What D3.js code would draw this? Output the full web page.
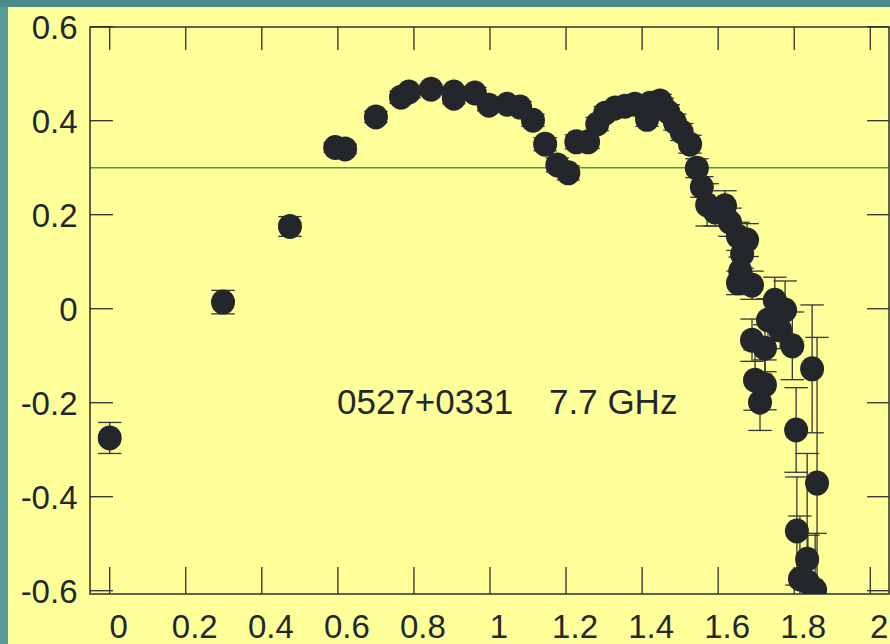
<!DOCTYPE html>
<html>
<head>
<meta charset="utf-8">
<script src="https://cdn.jsdelivr.net/npm/d3@7/dist/d3.min.js"></script>
<style>
  html, body { margin: 0; padding: 0; background: #4e8e8e; }
  svg { display: block; }
  text { font-family: "Liberation Sans", Arial, Helvetica, sans-serif; fill: #23272b; }
</style>
</head>
<body>
<svg id="chart" width="890" height="644"></svg>
<script>
// ---- data ----
const xVals = [0.000, 0.298, 0.474, 0.593, 0.619, 0.700, 0.766, 0.787, 0.845, 0.905,
               0.905, 0.960, 0.997, 1.045, 1.079, 1.113, 1.145, 1.177, 1.206, 1.227,
               1.258, 1.282, 1.303, 1.329, 1.355, 1.381, 1.413, 1.421, 1.447, 1.453,
               1.469, 1.486, 1.504, 1.526, 1.544, 1.557, 1.571, 1.592, 1.618, 1.631,
               1.652, 1.676, 1.663, 1.658, 1.652, 1.689, 1.749, 1.776, 1.731, 1.763,
               1.689, 1.723, 1.795, 1.847, 1.697, 1.723, 1.710, 1.805, 1.860, 1.807,
               1.834, 1.815, 1.836, 1.855];
const yVals = [-0.275, 0.014, 0.175, 0.343, 0.340, 0.408, 0.450, 0.461, 0.467, 0.461,
               0.448, 0.459, 0.433, 0.435, 0.429, 0.401, 0.350, 0.306, 0.289, 0.355,
               0.355, 0.393, 0.416, 0.427, 0.431, 0.435, 0.403, 0.437, 0.442, 0.433,
               0.418, 0.397, 0.376, 0.350, 0.299, 0.259, 0.221, 0.206, 0.219, 0.184,
               0.154, 0.146, 0.116, 0.080, 0.055, 0.050, 0.018, -0.003, -0.024, -0.045,
               -0.067, -0.084, -0.079, -0.128, -0.152, -0.162, -0.199, -0.258, -0.371, -0.473,
               -0.533, -0.575, -0.582, -0.598];
const yErrs = [0.033, 0.025, 0.021, 0.010, 0.010, 0.012, 0.013, 0.012, 0.010, 0.011,
               0.012, 0.012, 0.012, 0.011, 0.012, 0.013, 0.014, 0.015, 0.015, 0.015,
               0.014, 0.014, 0.014, 0.013, 0.013, 0.013, 0.015, 0.014, 0.014, 0.015,
               0.016, 0.017, 0.018, 0.019, 0.020, 0.022, 0.045, 0.030, 0.032, 0.030,
               0.030, 0.035, 0.030, 0.030, 0.025, 0.030, 0.049, 0.062, 0.045, 0.040,
               0.045, 0.050, 0.072, 0.136, 0.064, 0.053, 0.060, 0.090, 0.310, 0.115,
               0.225, 0.134, 0.100, 0.120];
const refLevel = 0.3;
const xTicks = [0, 0.2, 0.4, 0.6, 0.8, 1, 1.2, 1.4, 1.6, 1.8, 2];
const xTickLabels = ["0", "0.2", "0.4", "0.6", "0.8", "1", "1.2", "1.4", "1.6", "1.8", "2"];
const yTicks = [-0.6, -0.4, -0.2, 0, 0.2, 0.4, 0.6];
const yTickLabels = ["-0.6", "-0.4", "-0.2", "0", "0.2", "0.4", "0.6"];
const sourceName = "0527+0331";
const freqLabel = "7.7 GHz";

// ---- layout ----
const svg = d3.select("#chart");
const L = 90, R = 889, T = 27, B = 594;
const x = d3.scaleLinear().domain([-0.0518, 2.0492]).range([L, R]);
const y = d3.scaleLinear().domain([-0.607, 0.6]).range([B, T - 0.3]);

// panel background
svg.append("rect").attr("x", 0).attr("y", 0).attr("width", 890).attr("height", 644).attr("fill", "#4b8a8a");
svg.append("rect").attr("x", 0).attr("y", 7).attr("width", 8).attr("height", 637).attr("fill", "#5a9c9c");
svg.append("rect").attr("x", 8).attr("y", 7).attr("width", 882).attr("height", 637).attr("fill", "#ffff99");

svg.append("defs").append("clipPath").attr("id", "plotclip")
  .append("rect").attr("x", L).attr("y", T).attr("width", R - L).attr("height", B - T);

const ink = "#2b2f33";

// ticks (inward on all four sides)
const tickG = svg.append("g").attr("stroke", ink).attr("stroke-width", 1.3);
xTicks.forEach(v => {
  tickG.append("line").attr("x1", x(v)).attr("x2", x(v)).attr("y1", B).attr("y2", B - 27);
  tickG.append("line").attr("x1", x(v)).attr("x2", x(v)).attr("y1", T).attr("y2", T + 23);
});
yTicks.forEach(v => {
  tickG.append("line").attr("x1", L).attr("x2", L + 23).attr("y1", y(v)).attr("y2", y(v));
  tickG.append("line").attr("x1", R).attr("x2", R - 22).attr("y1", y(v)).attr("y2", y(v));
});

// tick labels
const fs = 33;
svg.append("g").selectAll("text").data(xTicks).join("text")
  .attr("x", d => x(d) + 9).attr("y", 638)
  .attr("text-anchor", "middle").attr("font-size", fs)
  .text((d, i) => xTickLabels[i]);
svg.append("g").selectAll("text").data(yTicks).join("text")
  .attr("x", 77.5).attr("y", d => y(d) + 12)
  .attr("text-anchor", "end").attr("font-size", fs)
  .text((d, i) => yTickLabels[i]);

const plot = svg.append("g").attr("clip-path", "url(#plotclip)");

// reference line
plot.append("line").attr("x1", L).attr("x2", R).attr("y1", y(refLevel)).attr("y2", y(refLevel))
  .attr("stroke", "#3fa04f").attr("stroke-width", 1.4);

const pts = xVals.map((v, i) => ({x: v, y: yVals[i], e: yErrs[i]}));

// error bars
const eb = plot.append("g").attr("stroke", "#33363a").attr("stroke-width", 1.3);
pts.forEach(p => {
  const cx = x(p.x), y1 = y(p.y + p.e), y2 = y(p.y - p.e);
  eb.append("line").attr("x1", cx).attr("x2", cx).attr("y1", y1).attr("y2", y2);
  eb.append("line").attr("x1", cx - 11.7).attr("x2", cx + 11.7).attr("y1", y1).attr("y2", y1);
  eb.append("line").attr("x1", cx - 11.7).attr("x2", cx + 11.7).attr("y1", y2).attr("y2", y2);
});

// markers
plot.append("g").selectAll("ellipse").data(pts).join("ellipse")
  .attr("cx", d => x(d.x)).attr("cy", d => y(d.y))
  .attr("rx", 12).attr("ry", 12.5)
  .attr("fill", "#23272b");

// frame
svg.append("rect").attr("x", L).attr("y", T).attr("width", R - L).attr("height", B - T)
  .attr("fill", "none").attr("stroke", ink).attr("stroke-width", 1.5);

// annotation
svg.append("text").attr("x", 337).attr("y", 414).attr("font-size", 35).text(sourceName);
svg.append("text").attr("x", 549).attr("y", 414).attr("font-size", 35).text(freqLabel);
</script>
</body>
</html>
